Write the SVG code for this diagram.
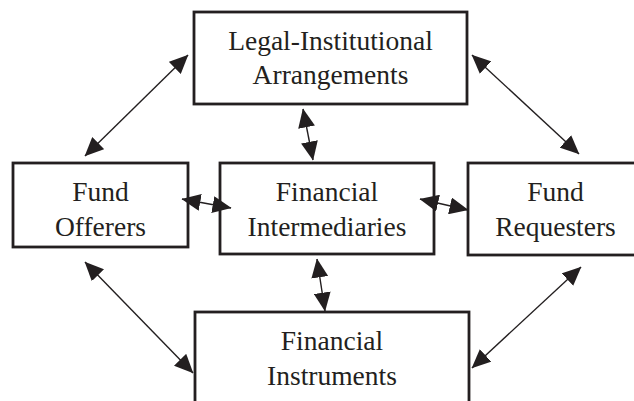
<svg xmlns="http://www.w3.org/2000/svg" width="634" height="401" viewBox="0 0 634 401">
  <style>
    .box { fill: #ffffff; stroke: #231f20; stroke-width: 2.8; }
    .label { font-family: "Liberation Serif", "Times New Roman", serif; font-size: 27.5px; fill: #231f20; text-anchor: middle; }
    .link { stroke: #231f20; stroke-width: 1.4; fill: none; marker-start: url(#head); marker-end: url(#head); }
  </style>
  <defs>
    <!-- filled triangular arrowhead used at both ends of every link -->
    <marker id="head" viewBox="0 -8.5 19 17" refX="18.5" refY="0" markerWidth="19" markerHeight="17" markerUnits="userSpaceOnUse" orient="auto-start-reverse">
      <path d="M0,-8.5 L19,0 L0,8.5 Z" fill="#231f20"/>
    </marker>
  </defs>
  <rect width="634" height="401" fill="#ffffff"/>

  <g id="legal-institutional">
    <rect class="box" x="194" y="12" width="273" height="92"/>
    <text class="label" x="330.5" y="50">Legal-Institutional</text>
    <text class="label" x="330.5" y="84">Arrangements</text>
  </g>

  <g id="fund-offerers">
    <rect class="box" x="13" y="163" width="175" height="84"/>
    <text class="label" x="100.5" y="201">Fund</text>
    <text class="label" x="100.5" y="236">Offerers</text>
  </g>

  <g id="financial-intermediaries">
    <rect class="box" x="220" y="163" width="214" height="91"/>
    <text class="label" x="327" y="201">Financial</text>
    <text class="label" x="327" y="236">Intermediaries</text>
  </g>

  <g id="fund-requesters">
    <rect class="box" x="468" y="163" width="175" height="92"/>
    <text class="label" x="555.5" y="201">Fund</text>
    <text class="label" x="555.5" y="236">Requesters</text>
  </g>

  <g id="financial-instruments">
    <rect class="box" x="195" y="312" width="274" height="95"/>
    <text class="label" x="332" y="350">Financial</text>
    <text class="label" x="332" y="385">Instruments</text>
  </g>

  <g id="connectors">
    <line class="link" x1="188" y1="55" x2="85" y2="156"/>
    <line class="link" x1="472" y1="55" x2="579" y2="154"/>
    <line class="link" x1="303" y1="109" x2="313" y2="160"/>
    <line class="link" x1="182" y1="199" x2="231" y2="208"/>
    <line class="link" x1="420" y1="199" x2="468" y2="210"/>
    <line class="link" x1="317" y1="259" x2="325" y2="311"/>
    <line class="link" x1="85" y1="262" x2="193" y2="373"/>
    <line class="link" x1="581" y1="267" x2="472" y2="368"/>
  </g>
</svg>
